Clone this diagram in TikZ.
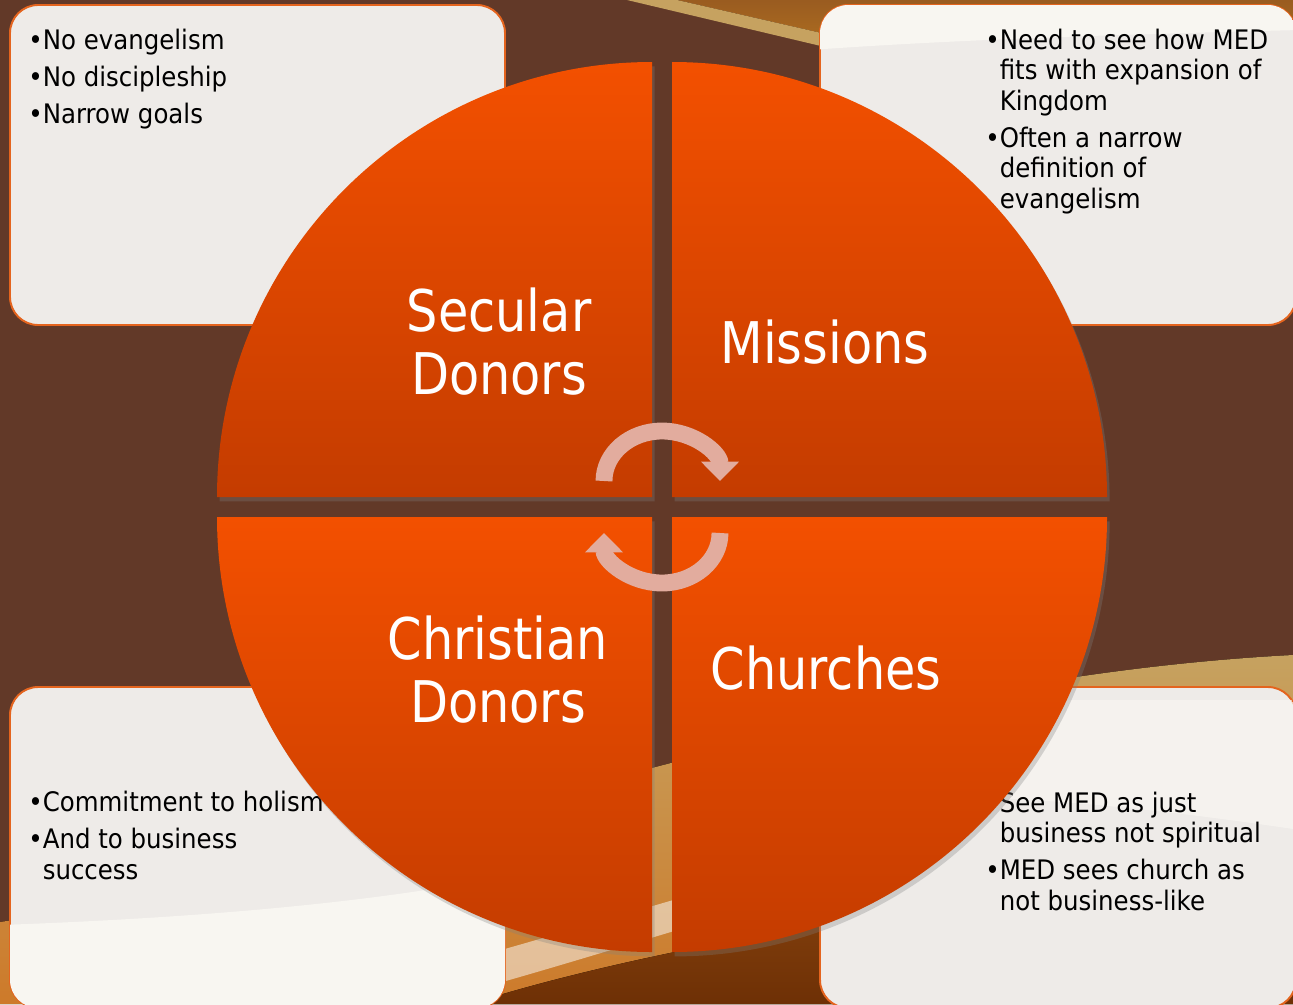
\documentclass[tikz,border=0pt]{standalone}
\usepackage{fontspec}
\setmainfont{DejaVu Sans}[FakeStretch=0.86]
\newfontfamily\notefont{DejaVu Sans}[FakeStretch=0.91]
\usepackage{tikz}
\usetikzlibrary{arrows.meta, shadows}

\definecolor{slide}{RGB}{98,57,40}
\definecolor{sand}{RGB}{198,162,96}
\definecolor{amber}{RGB}{205,122,42}
\definecolor{rust}{RGB}{110,48,5}
\definecolor{paper}{RGB}{238,235,232}
\definecolor{paperlight}{RGB}{248,246,241}
\definecolor{rim}{RGB}{228,100,30}
\definecolor{quadtop}{RGB}{243,80,0}
\definecolor{quadbot}{RGB}{196,60,0}
\definecolor{turncol}{RGB}{226,172,158}

\tikzstyle{notebox} = [draw=rim, line width=1.1pt, fill=paper, rounded corners=16pt]
\tikzstyle{notes} = [anchor=base west, inner sep=0pt, align=left, font=\notefont\fontsize{15.3}{17.3}\selectfont]
\tikzstyle{quad} = [top color=quadtop, bottom color=quadbot, drop shadow={shadow xshift=1.5pt, shadow yshift=-2.5pt, opacity=0.3}]
\tikzstyle{bigword} = [anchor=base, inner sep=0pt, align=center, text=white, font=\fontsize{32.7}{35.7}\selectfont]
\tikzstyle{turn} = [line width=9.6pt, draw=turncol, -{Triangle[width=21pt,length=11pt]}]

\newcommand{\indnt}{\hphantom{•}}

\begin{document}
\begin{tikzpicture}[x=0.02cm, y=-0.02cm]
\useasboundingbox (0,0) rectangle (1293,1004);
\clip (0,0) rectangle (1293,1004);

% backdrop with the two swooshes
\fill[slide] (0,0) rectangle (1293,1004);
\fill[top color=amber!75!black, bottom color=amber!80!yellow] (677,0) -- (1293,0) -- (1293,141) -- cycle;
\fill[sand] (627,0) -- (677,0) -- (1293,141) -- (1293,158) -- cycle;
\fill[top color=sand, bottom color=amber] (0,922) .. controls (420,860) and (820,680) .. (1293,655) -- (1293,1004) -- (0,1004) -- cycle;
\fill[paperlight, opacity=0.55] (300,1004) .. controls (600,930) and (900,820) .. (1293,740) -- (1293,770) .. controls (900,850) and (600,960) .. (420,1004) -- cycle;
\fill[top color=rust!70!amber, bottom color=rust] (470,1004) .. controls (640,950) and (900,905) .. (1293,860) -- (1293,1004) -- cycle;

% note boxes
\path[notebox] (10,5) rectangle (505,325);
\path[notebox] (820,5) rectangle (1296,325);
\path[notebox] (10,687) rectangle (505,1008);
\path[notebox] (820,687) rectangle (1296,1008);
\begin{scope}
  \clip[rounded corners=16pt] (820,5) rectangle (1296,325);
  \fill[paperlight] (810,0) -- (1300,0) -- (1300,30) .. controls (1100,35) and (950,40) .. (810,50) -- cycle;
\end{scope}
\begin{scope}
  \clip[rounded corners=16pt] (10,687) rectangle (505,1008);
  \fill[paperlight] (0,925) .. controls (200,918) and (380,902) .. (510,875) -- (510,1010) -- (0,1010) -- cycle;
\end{scope}
\begin{scope}
  \clip[rounded corners=16pt] (820,687) rectangle (1296,1008);
  \fill[paperlight, opacity=0.7] (810,700) -- (1300,700) -- (1300,830) .. controls (1100,800) and (950,790) .. (810,800) -- cycle;
\end{scope}

% remarks in the boxes (placed at the baseline of their last line)
\node[notes] (secnotes) at (28,123) {•No evangelism\\[3.7pt]•No discipleship\\[3.7pt]•Narrow goals};
\node[notes] (misnotes) at (985,208) {•Need to see how MED\\\indnt fits with expansion of\\\indnt Kingdom\\[3.7pt]•Often a narrow\\\indnt definition of\\\indnt evangelism};
\node[notes] (chrnotes) at (28,879) {•Commitment to holism\\[3.7pt]•And to business\\\indnt success};
\node[notes] (chunotes) at (985,910) {•See MED as just\\\indnt business not spiritual\\[3.7pt]•MED sees church as\\\indnt not business-like};

% four quarters of the disc
\path[quad] (652,497) -- ++(-435,0) arc(180:270:435) -- cycle;
\path[quad] (672,497) -- ++(0,-435) arc(270:360:435) -- cycle;
\path[quad] (672,517) -- ++(435,0) arc(0:90:435) -- cycle;
\path[quad] (652,517) -- ++(0,435) arc(90:180:435) -- cycle;

\node[bigword] (secular) at (499,394) {Secular\\Donors};
\node[bigword] (missions) at (825,363) {Missions};
\node[bigword] (christian) at (498,722) {Christian\\Donors};
\node[bigword] (churches) at (826,689) {Churches};

% turning arrows in the middle
\draw[turn] (604,481) arc(180:360:58 and 50);
\draw[turn] (720,533) arc(0:180:58 and 50);
\end{tikzpicture}
\end{document}
